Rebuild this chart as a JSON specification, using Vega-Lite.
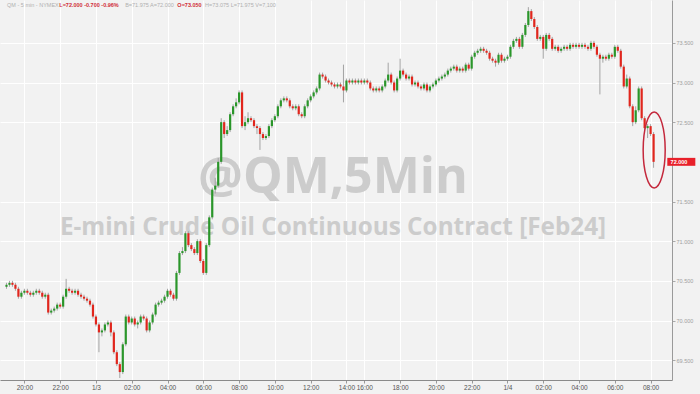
{
  "$schema": "https://vega.github.io/schema/vega-lite/v6.json",
  "width": 672,
  "height": 380,
  "autosize": "none",
  "padding": {"left": 0, "top": 0, "right": 28, "bottom": 14},
  "background": "#f2f2f2",
  "config": {"view": {"stroke": null}, "axis": {"labelOverlap": false, "labelBound": false, "labelFlush": false}},
  "datasets": {
    "ohlc": [
      {"i":0,"o":70.425,"h":70.475,"l":70.4,"c":70.45},
      {"i":1,"o":70.45,"h":70.5,"l":70.425,"c":70.475},
      {"i":2,"o":70.475,"h":70.5,"l":70.425,"c":70.45},
      {"i":3,"o":70.45,"h":70.475,"l":70.375,"c":70.4},
      {"i":4,"o":70.4,"h":70.425,"l":70.275,"c":70.3},
      {"i":5,"o":70.3,"h":70.375,"l":70.275,"c":70.35},
      {"i":6,"o":70.35,"h":70.4,"l":70.325,"c":70.375},
      {"i":7,"o":70.375,"h":70.4,"l":70.325,"c":70.35},
      {"i":8,"o":70.35,"h":70.375,"l":70.3,"c":70.325},
      {"i":9,"o":70.325,"h":70.375,"l":70.3,"c":70.35},
      {"i":10,"o":70.35,"h":70.4,"l":70.325,"c":70.375},
      {"i":11,"o":70.375,"h":70.4,"l":70.325,"c":70.35},
      {"i":12,"o":70.35,"h":70.375,"l":70.275,"c":70.3},
      {"i":13,"o":70.3,"h":70.35,"l":70.275,"c":70.325},
      {"i":14,"o":70.325,"h":70.35,"l":70.075,"c":70.1},
      {"i":15,"o":70.1,"h":70.15,"l":70.075,"c":70.125},
      {"i":16,"o":70.125,"h":70.175,"l":70.1,"c":70.15},
      {"i":17,"o":70.15,"h":70.225,"l":70.125,"c":70.2},
      {"i":18,"o":70.2,"h":70.225,"l":70.15,"c":70.175},
      {"i":19,"o":70.175,"h":70.325,"l":70.15,"c":70.3},
      {"i":20,"o":70.3,"h":70.525,"l":70.275,"c":70.4},
      {"i":21,"o":70.4,"h":70.425,"l":70.35,"c":70.375},
      {"i":22,"o":70.375,"h":70.4,"l":70.325,"c":70.35},
      {"i":23,"o":70.35,"h":70.4,"l":70.325,"c":70.375},
      {"i":24,"o":70.375,"h":70.4,"l":70.3,"c":70.325},
      {"i":25,"o":70.325,"h":70.35,"l":70.275,"c":70.3},
      {"i":26,"o":70.3,"h":70.325,"l":70.25,"c":70.275},
      {"i":27,"o":70.275,"h":70.3,"l":70.225,"c":70.25},
      {"i":28,"o":70.25,"h":70.275,"l":70.175,"c":70.2},
      {"i":29,"o":70.2,"h":70.225,"l":70.025,"c":70.05},
      {"i":30,"o":70.05,"h":70.075,"l":69.925,"c":69.95},
      {"i":31,"o":69.95,"h":69.975,"l":69.6,"c":69.85},
      {"i":32,"o":69.85,"h":69.9,"l":69.8,"c":69.875},
      {"i":33,"o":69.875,"h":69.975,"l":69.85,"c":69.95},
      {"i":34,"o":69.95,"h":70.0,"l":69.925,"c":69.975},
      {"i":35,"o":69.975,"h":70.0,"l":69.8,"c":69.85},
      {"i":36,"o":69.85,"h":69.875,"l":69.575,"c":69.6},
      {"i":37,"o":69.6,"h":69.625,"l":69.425,"c":69.45},
      {"i":38,"o":69.45,"h":69.475,"l":69.275,"c":69.35},
      {"i":39,"o":69.35,"h":69.725,"l":69.325,"c":69.7},
      {"i":40,"o":69.7,"h":70.075,"l":69.675,"c":70.05},
      {"i":41,"o":70.05,"h":70.075,"l":69.95,"c":69.975},
      {"i":42,"o":69.975,"h":70.05,"l":69.95,"c":70.025},
      {"i":43,"o":70.025,"h":70.05,"l":69.925,"c":69.95},
      {"i":44,"o":69.95,"h":70.0,"l":69.9,"c":69.975},
      {"i":45,"o":69.975,"h":70.075,"l":69.95,"c":70.05},
      {"i":46,"o":70.05,"h":70.075,"l":70.0,"c":70.025},
      {"i":47,"o":70.025,"h":70.05,"l":69.85,"c":69.875},
      {"i":48,"o":69.875,"h":70.0,"l":69.85,"c":69.975},
      {"i":49,"o":69.975,"h":70.1,"l":69.95,"c":70.075},
      {"i":50,"o":70.075,"h":70.225,"l":70.05,"c":70.2},
      {"i":51,"o":70.2,"h":70.25,"l":70.175,"c":70.225},
      {"i":52,"o":70.225,"h":70.275,"l":70.2,"c":70.25},
      {"i":53,"o":70.25,"h":70.325,"l":70.225,"c":70.3},
      {"i":54,"o":70.3,"h":70.4,"l":70.275,"c":70.375},
      {"i":55,"o":70.375,"h":70.4,"l":70.3,"c":70.325},
      {"i":56,"o":70.325,"h":70.35,"l":70.25,"c":70.275},
      {"i":57,"o":70.275,"h":70.625,"l":70.25,"c":70.6},
      {"i":58,"o":70.6,"h":70.875,"l":70.575,"c":70.85},
      {"i":59,"o":70.85,"h":70.925,"l":70.825,"c":70.875},
      {"i":60,"o":70.875,"h":71.125,"l":70.85,"c":71.1},
      {"i":61,"o":71.1,"h":71.125,"l":70.925,"c":70.95},
      {"i":62,"o":70.95,"h":70.975,"l":70.875,"c":70.9},
      {"i":63,"o":70.9,"h":70.925,"l":70.825,"c":70.85},
      {"i":64,"o":70.85,"h":71.025,"l":70.825,"c":71.0},
      {"i":65,"o":71.0,"h":71.025,"l":70.725,"c":70.75},
      {"i":66,"o":70.75,"h":70.775,"l":70.575,"c":70.6},
      {"i":67,"o":70.6,"h":70.975,"l":70.575,"c":70.95},
      {"i":68,"o":70.95,"h":71.325,"l":70.925,"c":71.3},
      {"i":69,"o":71.3,"h":71.675,"l":71.275,"c":71.65},
      {"i":70,"o":71.65,"h":71.8,"l":71.6,"c":71.7},
      {"i":71,"o":71.7,"h":72.05,"l":71.675,"c":72.0},
      {"i":72,"o":72.0,"h":72.55,"l":71.975,"c":72.5},
      {"i":73,"o":72.5,"h":72.525,"l":72.3,"c":72.35},
      {"i":74,"o":72.35,"h":72.45,"l":72.325,"c":72.4},
      {"i":75,"o":72.4,"h":72.625,"l":72.375,"c":72.6},
      {"i":76,"o":72.6,"h":72.725,"l":72.575,"c":72.7},
      {"i":77,"o":72.7,"h":72.8,"l":72.675,"c":72.75},
      {"i":78,"o":72.75,"h":72.9,"l":72.725,"c":72.875},
      {"i":79,"o":72.875,"h":72.9,"l":72.425,"c":72.45},
      {"i":80,"o":72.45,"h":72.575,"l":72.4,"c":72.5},
      {"i":81,"o":72.5,"h":72.625,"l":72.475,"c":72.55},
      {"i":82,"o":72.55,"h":72.575,"l":72.5,"c":72.525},
      {"i":83,"o":72.525,"h":72.55,"l":72.425,"c":72.45},
      {"i":84,"o":72.45,"h":72.475,"l":72.35,"c":72.425},
      {"i":85,"o":72.425,"h":72.45,"l":72.15,"c":72.35},
      {"i":86,"o":72.35,"h":72.375,"l":72.275,"c":72.3},
      {"i":87,"o":72.3,"h":72.35,"l":72.275,"c":72.325},
      {"i":88,"o":72.325,"h":72.475,"l":72.3,"c":72.45},
      {"i":89,"o":72.45,"h":72.55,"l":72.425,"c":72.525},
      {"i":90,"o":72.525,"h":72.6,"l":72.5,"c":72.575},
      {"i":91,"o":72.575,"h":72.725,"l":72.55,"c":72.7},
      {"i":92,"o":72.7,"h":72.8,"l":72.675,"c":72.775},
      {"i":93,"o":72.775,"h":72.825,"l":72.75,"c":72.8},
      {"i":94,"o":72.8,"h":72.825,"l":72.75,"c":72.775},
      {"i":95,"o":72.775,"h":72.8,"l":72.675,"c":72.7},
      {"i":96,"o":72.7,"h":72.725,"l":72.65,"c":72.675},
      {"i":97,"o":72.675,"h":72.725,"l":72.65,"c":72.7},
      {"i":98,"o":72.7,"h":72.725,"l":72.575,"c":72.6},
      {"i":99,"o":72.6,"h":72.625,"l":72.55,"c":72.575},
      {"i":100,"o":72.575,"h":72.725,"l":72.55,"c":72.7},
      {"i":101,"o":72.7,"h":72.8,"l":72.675,"c":72.775},
      {"i":102,"o":72.775,"h":72.85,"l":72.75,"c":72.825},
      {"i":103,"o":72.825,"h":72.9,"l":72.8,"c":72.875},
      {"i":104,"o":72.875,"h":72.95,"l":72.85,"c":72.925},
      {"i":105,"o":72.925,"h":73.125,"l":72.9,"c":73.1},
      {"i":106,"o":73.1,"h":73.125,"l":73.05,"c":73.075},
      {"i":107,"o":73.075,"h":73.1,"l":73.0,"c":73.025},
      {"i":108,"o":73.025,"h":73.05,"l":72.975,"c":73.0},
      {"i":109,"o":73.0,"h":73.025,"l":72.95,"c":72.975},
      {"i":110,"o":72.975,"h":73.0,"l":72.925,"c":72.95},
      {"i":111,"o":72.95,"h":73.0,"l":72.925,"c":72.975},
      {"i":112,"o":72.975,"h":73.0,"l":72.925,"c":72.95},
      {"i":113,"o":72.95,"h":73.225,"l":72.75,"c":72.9},
      {"i":114,"o":72.9,"h":73.05,"l":72.875,"c":73.025},
      {"i":115,"o":73.025,"h":73.05,"l":72.975,"c":73.0},
      {"i":116,"o":73.0,"h":73.05,"l":72.975,"c":73.025},
      {"i":117,"o":73.025,"h":73.05,"l":72.975,"c":73.0},
      {"i":118,"o":73.0,"h":73.05,"l":72.975,"c":73.025},
      {"i":119,"o":73.025,"h":73.05,"l":72.975,"c":73.0},
      {"i":120,"o":73.0,"h":73.05,"l":72.975,"c":73.025},
      {"i":121,"o":73.025,"h":73.05,"l":72.975,"c":73.0},
      {"i":122,"o":73.0,"h":73.025,"l":72.9,"c":72.925},
      {"i":123,"o":72.925,"h":72.95,"l":72.875,"c":72.9},
      {"i":124,"o":72.9,"h":72.95,"l":72.875,"c":72.925},
      {"i":125,"o":72.925,"h":72.95,"l":72.875,"c":72.9},
      {"i":126,"o":72.9,"h":72.975,"l":72.875,"c":72.95},
      {"i":127,"o":72.95,"h":73.05,"l":72.925,"c":73.025},
      {"i":128,"o":73.025,"h":73.25,"l":73.0,"c":73.1},
      {"i":129,"o":73.1,"h":73.125,"l":72.975,"c":73.0},
      {"i":130,"o":73.0,"h":73.025,"l":72.875,"c":72.9},
      {"i":131,"o":72.9,"h":73.075,"l":72.875,"c":73.05},
      {"i":132,"o":73.05,"h":73.3,"l":73.025,"c":73.15},
      {"i":133,"o":73.15,"h":73.175,"l":73.075,"c":73.1},
      {"i":134,"o":73.1,"h":73.125,"l":73.025,"c":73.05},
      {"i":135,"o":73.05,"h":73.1,"l":73.025,"c":73.075},
      {"i":136,"o":73.075,"h":73.1,"l":72.95,"c":72.975},
      {"i":137,"o":72.975,"h":73.025,"l":72.95,"c":73.0},
      {"i":138,"o":73.0,"h":73.025,"l":72.925,"c":72.95},
      {"i":139,"o":72.95,"h":72.975,"l":72.9,"c":72.925},
      {"i":140,"o":72.925,"h":73.0,"l":72.9,"c":72.975},
      {"i":141,"o":72.975,"h":73.0,"l":72.875,"c":72.9},
      {"i":142,"o":72.9,"h":72.975,"l":72.875,"c":72.95},
      {"i":143,"o":72.95,"h":73.0,"l":72.925,"c":72.975},
      {"i":144,"o":72.975,"h":73.05,"l":72.95,"c":73.025},
      {"i":145,"o":73.025,"h":73.075,"l":73.0,"c":73.05},
      {"i":146,"o":73.05,"h":73.1,"l":73.025,"c":73.075},
      {"i":147,"o":73.075,"h":73.125,"l":73.05,"c":73.1},
      {"i":148,"o":73.1,"h":73.175,"l":73.075,"c":73.15},
      {"i":149,"o":73.15,"h":73.2,"l":73.125,"c":73.175},
      {"i":150,"o":73.175,"h":73.225,"l":73.15,"c":73.2},
      {"i":151,"o":73.2,"h":73.225,"l":73.125,"c":73.15},
      {"i":152,"o":73.15,"h":73.2,"l":73.125,"c":73.175},
      {"i":153,"o":73.175,"h":73.2,"l":73.125,"c":73.15},
      {"i":154,"o":73.15,"h":73.25,"l":73.125,"c":73.225},
      {"i":155,"o":73.225,"h":73.25,"l":73.15,"c":73.175},
      {"i":156,"o":73.175,"h":73.35,"l":73.15,"c":73.325},
      {"i":157,"o":73.325,"h":73.4,"l":73.3,"c":73.375},
      {"i":158,"o":73.375,"h":73.425,"l":73.35,"c":73.4},
      {"i":159,"o":73.4,"h":73.45,"l":73.375,"c":73.425},
      {"i":160,"o":73.425,"h":73.45,"l":73.375,"c":73.4},
      {"i":161,"o":73.4,"h":73.425,"l":73.35,"c":73.375},
      {"i":162,"o":73.375,"h":73.4,"l":73.275,"c":73.3},
      {"i":163,"o":73.3,"h":73.325,"l":73.25,"c":73.275},
      {"i":164,"o":73.275,"h":73.3,"l":73.2,"c":73.25},
      {"i":165,"o":73.25,"h":73.375,"l":73.225,"c":73.35},
      {"i":166,"o":73.35,"h":73.375,"l":73.25,"c":73.275},
      {"i":167,"o":73.275,"h":73.325,"l":73.25,"c":73.3},
      {"i":168,"o":73.3,"h":73.35,"l":73.275,"c":73.325},
      {"i":169,"o":73.325,"h":73.475,"l":73.3,"c":73.45},
      {"i":170,"o":73.45,"h":73.55,"l":73.425,"c":73.525},
      {"i":171,"o":73.525,"h":73.575,"l":73.5,"c":73.55},
      {"i":172,"o":73.55,"h":73.575,"l":73.425,"c":73.45},
      {"i":173,"o":73.45,"h":73.625,"l":73.425,"c":73.6},
      {"i":174,"o":73.6,"h":73.75,"l":73.575,"c":73.725},
      {"i":175,"o":73.725,"h":73.95,"l":73.7,"c":73.9},
      {"i":176,"o":73.9,"h":73.925,"l":73.775,"c":73.8},
      {"i":177,"o":73.8,"h":73.825,"l":73.675,"c":73.7},
      {"i":178,"o":73.7,"h":73.725,"l":73.525,"c":73.55},
      {"i":179,"o":73.55,"h":73.6,"l":73.525,"c":73.575},
      {"i":180,"o":73.575,"h":73.6,"l":73.3,"c":73.425},
      {"i":181,"o":73.425,"h":73.625,"l":73.4,"c":73.6},
      {"i":182,"o":73.6,"h":73.625,"l":73.525,"c":73.55},
      {"i":183,"o":73.55,"h":73.575,"l":73.4,"c":73.425},
      {"i":184,"o":73.425,"h":73.475,"l":73.4,"c":73.45},
      {"i":185,"o":73.45,"h":73.475,"l":73.375,"c":73.4},
      {"i":186,"o":73.4,"h":73.45,"l":73.375,"c":73.425},
      {"i":187,"o":73.425,"h":73.475,"l":73.4,"c":73.45},
      {"i":188,"o":73.45,"h":73.475,"l":73.4,"c":73.425},
      {"i":189,"o":73.425,"h":73.5,"l":73.4,"c":73.475},
      {"i":190,"o":73.475,"h":73.5,"l":73.425,"c":73.45},
      {"i":191,"o":73.45,"h":73.5,"l":73.425,"c":73.475},
      {"i":192,"o":73.475,"h":73.5,"l":73.425,"c":73.45},
      {"i":193,"o":73.45,"h":73.5,"l":73.425,"c":73.475},
      {"i":194,"o":73.475,"h":73.5,"l":73.425,"c":73.45},
      {"i":195,"o":73.45,"h":73.475,"l":73.4,"c":73.425},
      {"i":196,"o":73.425,"h":73.525,"l":73.4,"c":73.5},
      {"i":197,"o":73.5,"h":73.525,"l":73.425,"c":73.45},
      {"i":198,"o":73.45,"h":73.475,"l":73.325,"c":73.35},
      {"i":199,"o":73.35,"h":73.375,"l":72.85,"c":73.3},
      {"i":200,"o":73.3,"h":73.35,"l":73.25,"c":73.325},
      {"i":201,"o":73.325,"h":73.35,"l":73.275,"c":73.3},
      {"i":202,"o":73.3,"h":73.375,"l":73.275,"c":73.35},
      {"i":203,"o":73.35,"h":73.375,"l":73.3,"c":73.325},
      {"i":204,"o":73.325,"h":73.475,"l":73.3,"c":73.45},
      {"i":205,"o":73.45,"h":73.475,"l":73.375,"c":73.4},
      {"i":206,"o":73.4,"h":73.425,"l":73.175,"c":73.2},
      {"i":207,"o":73.2,"h":73.225,"l":72.925,"c":72.95},
      {"i":208,"o":72.95,"h":73.1,"l":72.925,"c":73.05},
      {"i":209,"o":73.05,"h":73.075,"l":72.675,"c":72.7},
      {"i":210,"o":72.7,"h":72.725,"l":72.45,"c":72.5},
      {"i":211,"o":72.5,"h":72.7,"l":72.475,"c":72.65},
      {"i":212,"o":72.65,"h":72.95,"l":72.625,"c":72.925},
      {"i":213,"o":72.925,"h":72.95,"l":72.525,"c":72.55},
      {"i":214,"o":72.55,"h":72.575,"l":72.4,"c":72.425},
      {"i":215,"o":72.425,"h":72.475,"l":72.3,"c":72.45},
      {"i":216,"o":72.45,"h":72.475,"l":72.325,"c":72.35},
      {"i":217,"o":72.35,"h":72.375,"l":71.925,"c":72.0}
    ]
  },
  "layer": [
    {
      "data": {"values": [{}]},
      "mark": {"type": "text", "text": "@QM,5Min", "font": "Open Sans", "fontWeight": "bold", "fontSize": 50, "color": "#cccccc", "align": "center", "baseline": "middle"},
      "encoding": {
        "x": {"datum": 109.5, "type": "quantitative"},
        "y": {"datum": 71.8, "type": "quantitative"}
      }
    },
    {
      "data": {"values": [{}]},
      "mark": {"type": "text", "text": "E-mini Crude Oil Continuous Contract [Feb24]", "font": "Open Sans", "fontWeight": "bold", "fontSize": 24.3, "color": "#cccccc", "align": "center", "baseline": "middle"},
      "encoding": {
        "x": {"datum": 109.5, "type": "quantitative"},
        "y": {"datum": 71.17, "type": "quantitative"}
      }
    },
    {
      "data": {"name": "ohlc"},
      "mark": {"type": "rule", "color": "#a3a3a3", "strokeWidth": 1},
      "encoding": {
        "x": {
          "field": "i", "type": "quantitative",
          "scale": {"domain": [-0.5, 221.5], "nice": false, "zero": false},
          "axis": {
            "title": null,
            "values": [6,18,30,42,54,66,78,90,102,114,120,132,144,156,168,180,192,204,216],
            "tickCount": 60,
            "labelExpr": "['20:00','22:00','1/3','02:00','04:00','06:00','08:00','10:00','12:00','14:00','16:00','18:00','20:00','22:00','1/4','02:00','04:00','06:00','08:00'][indexof([6,18,30,42,54,66,78,90,102,114,120,132,144,156,168,180,192,204,216], datum.value)]",
            "labelFont": "Liberation Sans", "labelFontSize": 6.5, "labelColor": "#555555",
            "labelOverlap": false, "labelBound": false, "labelFlush": false, "labelPadding": 1,
            "tickSize": 3, "tickColor": "#999999", "domainColor": "#8a8a8a",
            "grid": true, "gridColor": "#ffffff", "gridWidth": 1
          }
        },
        "y": {
          "field": "l", "type": "quantitative",
          "scale": {"domain": [69.25, 74.04], "nice": false, "zero": false},
          "axis": {
            "title": null, "orient": "right",
            "values": [69.5, 70.0, 70.5, 71.0, 71.5, 72.5, 73.0, 73.5],
            "tickCount": 20,
            "format": ".3f",
            "labelFont": "Liberation Sans", "labelFontSize": 5.5, "labelColor": "#a0a0a0",
            "labelOverlap": false, "labelPadding": 1,
            "tickSize": 3, "tickColor": "#aaaaaa", "domainColor": "#9a9a9a",
            "grid": true, "gridColor": "#ffffff", "gridWidth": 1
          }
        },
        "y2": {"field": "h"}
      }
    },
    {
      "data": {"name": "ohlc"},
      "mark": {"type": "bar", "width": 2.2},
      "encoding": {
        "x": {"field": "i", "type": "quantitative"},
        "y": {"field": "o", "type": "quantitative"},
        "y2": {"field": "c"},
        "color": {"condition": {"test": "datum.c >= datum.o", "value": "#2a962a"}, "value": "#e1261d"}
      }
    },
    {
      "data": {"values": [{}]},
      "mark": {"type": "point", "shape": "M 0 -1 C 0.16 -1 0.29 -0.55 0.29 0 C 0.29 0.55 0.16 1 0 1 C -0.16 1 -0.29 0.55 -0.29 0 C -0.29 -0.55 -0.16 -1 0 -1 Z", "size": 5776, "filled": false, "stroke": "#c4283c", "strokeWidth": 1.5, "opacity": 1},
      "encoding": {
        "x": {"datum": 217.2, "type": "quantitative"},
        "y": {"datum": 72.15, "type": "quantitative"}
      }
    },
    {
      "data": {"values": [{}]},
      "mark": {"type": "rect", "color": "#e8202a"},
      "encoding": {
        "x": {"datum": 221.6, "type": "quantitative"},
        "x2": {"datum": 231},
        "y": {"datum": 72.05, "type": "quantitative"},
        "y2": {"datum": 71.95}
      }
    },
    {
      "data": {"values": [{}]},
      "mark": {"type": "text", "text": "72.000", "font": "Liberation Sans", "fontWeight": "bold", "fontSize": 5.5, "color": "#ffffff", "align": "left", "baseline": "middle"},
      "encoding": {
        "x": {"datum": 222.7, "type": "quantitative"},
        "y": {"datum": 72.0, "type": "quantitative"}
      }
    },
    {
      "data": {"values": [{}]},
      "mark": {"type": "text", "text": "QM - 5 min - NYMEX", "font": "Liberation Sans", "fontSize": 5.5, "color": "#b0b0b0", "align": "left", "baseline": "middle"},
      "encoding": {
        "x": {"datum": 0.2, "type": "quantitative"},
        "y": {"datum": 73.98, "type": "quantitative"}
      }
    },
    {
      "data": {"values": [{}]},
      "mark": {"type": "text", "text": "L=72.000  -0.700  -0.96%", "font": "Liberation Sans", "fontWeight": "bold", "fontSize": 5.5, "color": "#d02a36", "align": "left", "baseline": "middle"},
      "encoding": {
        "x": {"datum": 17.7, "type": "quantitative"},
        "y": {"datum": 73.98, "type": "quantitative"}
      }
    },
    {
      "data": {"values": [{}]},
      "mark": {"type": "text", "text": "B=71.975  A=72.000", "font": "Liberation Sans", "fontSize": 5.5, "color": "#b0b0b0", "align": "left", "baseline": "middle"},
      "encoding": {
        "x": {"datum": 39.8, "type": "quantitative"},
        "y": {"datum": 73.98, "type": "quantitative"}
      }
    },
    {
      "data": {"values": [{}]},
      "mark": {"type": "text", "text": "O=73.050", "font": "Liberation Sans", "fontWeight": "bold", "fontSize": 5.5, "color": "#d02a36", "align": "left", "baseline": "middle"},
      "encoding": {
        "x": {"datum": 57.3, "type": "quantitative"},
        "y": {"datum": 73.98, "type": "quantitative"}
      }
    },
    {
      "data": {"values": [{}]},
      "mark": {"type": "text", "text": "H=73.075  L=71.975  V=7,100", "font": "Liberation Sans", "fontSize": 5.5, "color": "#b0b0b0", "align": "left", "baseline": "middle"},
      "encoding": {
        "x": {"datum": 66.6, "type": "quantitative"},
        "y": {"datum": 73.98, "type": "quantitative"}
      }
    }
  ]
}
